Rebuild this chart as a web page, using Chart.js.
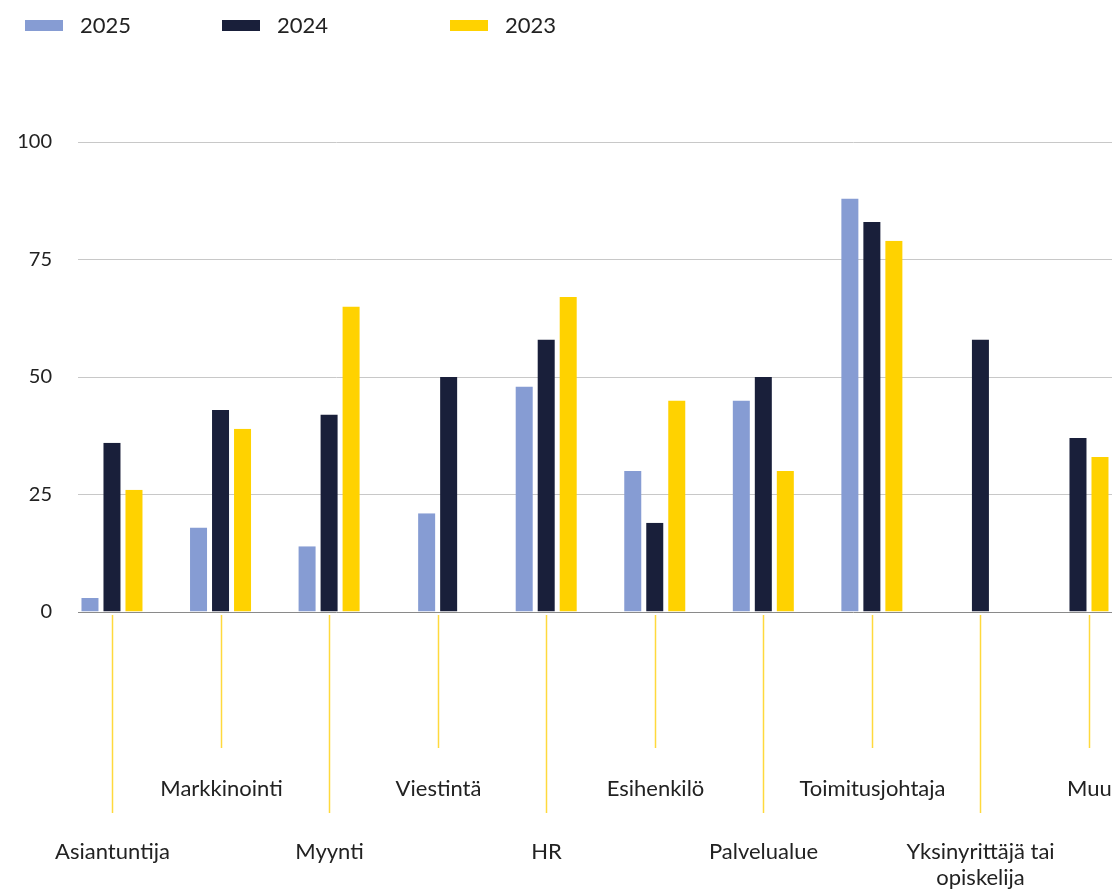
<!DOCTYPE html>
<html>
<head>
<meta charset="utf-8">
<script src="https://cdn.jsdelivr.net/npm/chart.js@4.4.1/dist/chart.umd.min.js"></script>
<style>
  html, body { margin: 0; padding: 0; background: #fff; overflow: hidden; }
  #wrap { position: relative; width: 1112px; height: 891px; }
</style>
</head>
<body>
<div id="wrap"><canvas id="c"></canvas></div>
<script>
// ---- data ----
const categories = ['Asiantuntija', 'Markkinointi', 'Myynti', 'Viestintä', 'HR', 'Esihenkilö',
  'Palvelualue', 'Toimitusjohtaja', ['Yksinyrittäjä tai', 'opiskelija'], 'Muu'];
const seriesNames = ['2025', '2024', '2023'];
const values2025 = [3, 18, 14, 21, 48, 30, 45, 88, null, null];
const values2024 = [36, 43, 42, 50, 58, 19, 50, 83, 58, 37];
const values2023 = [26, 39, 65, null, 67, 45, 30, 79, null, 33];
const yTicks = [0, 25, 50, 75, 100];

const colors = ['#869cd3', '#191f3a', '#ffd200'];
const FONT = 'Lato, "Open Sans", sans-serif';

function toPoints(arr) { return arr.map((v, i) => ({ x: i, y: v })); }

function makeDataset(name, vals, color) {
  return {
    label: name,
    data: toPoints(vals),
    backgroundColor: color,
    borderColor: 'rgba(0,0,0,0)',
    borderWidth: { left: 2.5, right: 2.5, top: 0, bottom: 0 },
    borderSkipped: false,
    inflateAmount: 0,
    barThickness: 22,
    skipNull: true
  };
}

const overlay = {
  id: 'overlay',
  afterDraw(chart) {
    const ctx = chart.ctx;
    const xs = chart.scales.x;
    const bottom = chart.chartArea.bottom;
    ctx.save();
    // category ticks and labels
    categories.forEach((lab, i) => {
      const px = Math.round(xs.getPixelForValue(i)) + 0.5;
      const upper = i % 2 === 1;
      ctx.strokeStyle = '#ffd93d';
      ctx.lineWidth = 1.5;
      ctx.beginPath();
      ctx.moveTo(px, bottom + 3);
      ctx.lineTo(px, bottom + (upper ? 136 : 201));
      ctx.stroke();
      ctx.fillStyle = '#222';
      ctx.font = '22px ' + FONT;
      ctx.textAlign = 'center';
      ctx.textBaseline = 'middle';
      const lines = Array.isArray(lab) ? lab : [lab];
      const y0 = bottom + (upper ? 177 : 240);
      lines.forEach((t, k) => ctx.fillText(t, px, y0 + k * 26));
    });
    // legend
    const lx = [25, 222, 450];
    chart.data.datasets.forEach((ds, i) => {
      ctx.fillStyle = ds.backgroundColor;
      ctx.fillRect(lx[i], 20, 38, 11);
      ctx.fillStyle = '#222';
      ctx.font = '22px ' + FONT;
      ctx.textAlign = 'left';
      ctx.textBaseline = 'middle';
      ctx.fillText(ds.label, lx[i] + 55, 26);
    });
    ctx.restore();
  }
};

new Chart(document.getElementById('c'), {
  type: 'bar',
  data: {
    datasets: [
      makeDataset(seriesNames[0], values2025, colors[0]),
      makeDataset(seriesNames[1], values2024, colors[1]),
      makeDataset(seriesNames[2], values2023, colors[2])
    ]
  },
  options: {
    responsive: true,
    maintainAspectRatio: false,
    animation: false,
    layout: { padding: { top: 142, bottom: 279, left: 0, right: 0 } },
    plugins: { legend: { display: false }, tooltip: { enabled: false } },
    scales: {
      x: {
        type: 'linear',
        offset: false,
        min: -0.313,
        max: 9.212,
        grid: { display: false, drawTicks: false },
        border: { display: false },
        ticks: { display: false },
        afterFit(s) { s.height = 0; }
      },
      y: {
        min: 0,
        max: 100,
        afterBuildTicks(s) { s.ticks = yTicks.map(v => ({ value: v })); },
        grid: {
          drawTicks: false,
          color: (c) => c.tick && c.tick.value === 0 ? '#8a8a8a' : '#c8c8c8',
          lineWidth: 1
        },
        border: { display: false },
        ticks: {
          padding: 26,
          color: '#222',
          font: { family: FONT, size: 20 }
        },
        afterFit(s) { s.width = 78; }
      }
    }
  },
  plugins: [overlay]
});
</script>
</body>
</html>
